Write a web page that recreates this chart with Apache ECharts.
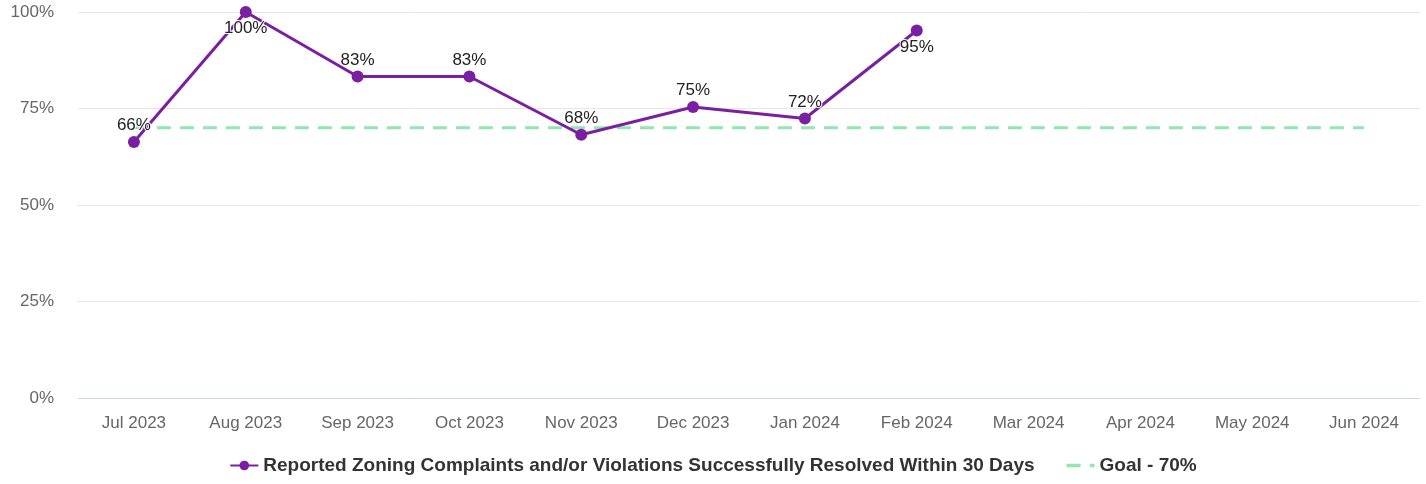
<!DOCTYPE html>
<html>
<head>
<meta charset="utf-8">
<script src="https://cdn.jsdelivr.net/npm/echarts@6/dist/echarts.min.js"></script>
<style>html,body{margin:0;padding:0;background:#fff}#c{width:1426px;height:484px}</style>
</head>
<body>
<div id="c"></div>
<script>
const categories = ['Jul 2023','Aug 2023','Sep 2023','Oct 2023','Nov 2023','Dec 2023','Jan 2024','Feb 2024','Mar 2024','Apr 2024','May 2024','Jun 2024'];
const resolvedValues = [66.3, 100, 83.3, 83.3, 68.2, 75.4, 72.4, 95.2];
const labelPositions = ['top','bottom','top','top','top','top','top','bottom'];
const goalValues = [70,70,70,70,70,70,70,70,70,70,70,70];
const yTicks = [0,25,50,75,100];
const seriesName = 'Reported Zoning Complaints and/or Violations Successfully Resolved Within 30 Days';
const goalName = 'Goal - 70%';

const FONT = 'Liberation Sans, Arial, sans-serif';
const chart = echarts.init(document.getElementById('c'));
chart.setOption({
  animation: false,
  textStyle: { fontFamily: FONT },
  grid: { left: 78, right: 6, top: 12, bottom: 86, containLabel: false },
  legend: {
    bottom: 4,
    left: 'center',
    itemWidth: 28,
    itemHeight: 12,
    itemGap: 32,
    textStyle: { fontSize: 19, fontWeight: 'bold', color: '#333', fontFamily: FONT },
    data: [
      { name: seriesName },
      { name: goalName, icon: 'path://M0,0H12V3H0Z M20,0H24V3H20Z', itemStyle: { color: '#90e8b0' } }
    ]
  },
  xAxis: {
    type: 'category',
    data: categories,
    boundaryGap: true,
    axisLine: { show: false },
    axisTick: { show: false },
    axisLabel: { color: '#666', fontSize: 17, margin: 17 }
  },
  yAxis: {
    type: 'value',
    min: yTicks[0],
    max: yTicks[yTicks.length - 1],
    interval: 25,
    axisLine: { show: false },
    axisTick: { show: false },
    axisLabel: { color: '#666', fontSize: 17, margin: 24, formatter: v => v + '%' },
    splitLine: { lineStyle: { color: ['#ccd6eb', '#e6e6e6', '#e6e6e6', '#e6e6e6', '#e6e6e6'], width: 1 } }
  },
  series: [
    {
      name: goalName,
      type: 'line',
      data: goalValues,
      symbol: 'none',
      z: 1,
      lineStyle: { color: '#90e8b0', width: 3, type: [14, 9] },
      itemStyle: { color: '#90e8b0' },
      silent: true
    },
    {
      name: seriesName,
      type: 'line',
      data: resolvedValues.map((v, i) => ({
        value: v,
        label: { position: labelPositions[i] }
      })),
      symbol: 'circle',
      symbolSize: 12,
      z: 3,
      lineStyle: { color: '#7b1fa2', width: 3 },
      itemStyle: { color: '#7b1fa2' },
      label: {
        show: true,
        distance: 2,
        color: '#222',
        fontSize: 17,
        textBorderColor: '#fff',
        textBorderWidth: 2,
        formatter: p => Math.round(p.value) + '%'
      }
    }
  ]
});
</script>
</body>
</html>
